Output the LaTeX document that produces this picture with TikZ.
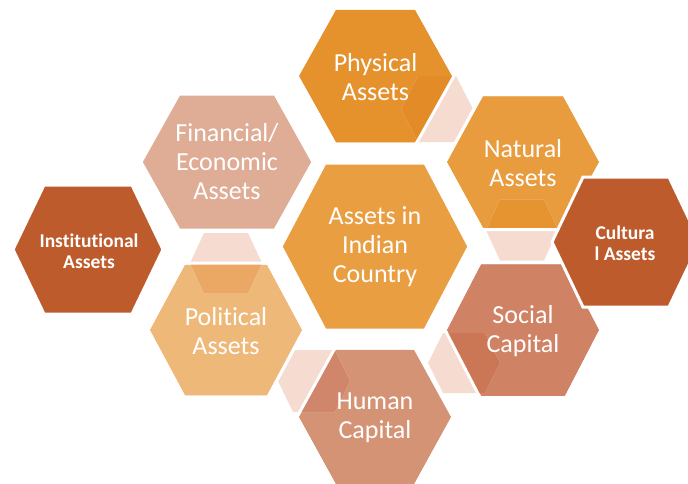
\documentclass[tikz,border=0pt]{standalone}
\usepackage{fontspec}
\setmainfont{Carlito}[Ligatures=NoCommon]
\definecolor{physC}{HTML}{E5912C}
\definecolor{physD}{HTML}{E28B27}
\definecolor{natC}{HTML}{E99C3E}
\definecolor{natD}{HTML}{E5942F}
\definecolor{centC}{HTML}{E99E42}
\definecolor{socC}{HTML}{D08265}
\definecolor{socD}{HTML}{CB7654}
\definecolor{humC}{HTML}{D49374}
\definecolor{humD}{HTML}{D0866A}
\definecolor{polC}{HTML}{EEB878}
\definecolor{polD}{HTML}{EBA864}
\definecolor{finC}{HTML}{DFAC95}
\definecolor{rustC}{HTML}{BD5B2D}
\definecolor{pinkC}{HTML}{F5DBD0}
\newcommand\hexp[5]{({#1-#3},{#2}) -- ({#1-#3+#5},{#2-#4}) -- ({#1+#3-#5},{#2-#4}) -- ({#1+#3},{#2}) -- ({#1+#3-#5},{#2+#4}) -- ({#1-#3+#5},{#2+#4}) -- cycle}
\tikzset{
  hexbox/.style={draw=white, line width=3pt, line join=miter},
  hexline/.style={draw=white, line width=3pt, line join=miter},
  lbl/.style={text=white, align=center, font=\fontsize{26}{29}\selectfont},
  blbl/.style={text=white, align=center, font=\fontsize{19.5}{21.5}\selectfont\bfseries},
}
\begin{document}
\begin{tikzpicture}[x=1pt, y=-1pt]
\useasboundingbox (0,0) rectangle (688,483);
\begin{scope}
\clip (0,0) rectangle (688,483);
% centre
\fill[centC, hexbox] \hexp{375}{246.5}{94}{83.5}{44};
% institutional
\fill[rustC, hexbox] \hexp{88}{249.5}{75}{64.5}{31};
% physical
\fill[physC, hexbox] \hexp{375.5}{76}{78.5}{68}{38};
\fill[pinkC] \hexp{437}{109}{36}{33}{17};
\begin{scope}\clip \hexp{375.5}{76}{78.5}{68}{38};
\fill[physD] \hexp{437}{109}{36}{33}{17};\end{scope}
\draw[hexline] \hexp{375.5}{76}{78.5}{68}{38};
% natural
\fill[natC, hexbox] \hexp{523}{162}{78}{67.5}{37};
\fill[pinkC] \hexp{522}{230}{36}{30.5}{14};
\begin{scope}\clip \hexp{523}{162}{78}{67.5}{37};
\fill[natD] \hexp{522}{230}{36}{30.5}{14};\end{scope}
\draw[hexline] \hexp{523}{162}{78}{67.5}{37};
% social
\fill[socC, hexbox] \hexp{523}{330}{78}{67.5}{35};
\fill[pinkC] \hexp{464}{363}{36}{30}{15};
\begin{scope}\clip \hexp{523}{330}{78}{67.5}{35};
\fill[socD] \hexp{464}{363}{36}{30}{15};\end{scope}
\draw[hexline] \hexp{523}{330}{78}{67.5}{35};
% human
\fill[humC, hexbox] \hexp{375}{417}{78}{69}{38};
\fill[pinkC] \hexp{314}{381}{36}{31}{15};
\begin{scope}\clip \hexp{375}{417}{78}{69}{38};
\fill[humD] \hexp{314}{381}{36}{31}{15};\end{scope}
\draw[hexline] \hexp{375}{417}{78}{69}{38};
% political
\fill[polC, hexbox] \hexp{226}{330}{78}{67}{36};
\fill[pinkC] \hexp{226}{263}{36}{30}{14};
\begin{scope}\clip \hexp{226}{330}{78}{67}{36};
\fill[polD] \hexp{226}{263}{36}{30}{14};\end{scope}
\draw[hexline] \hexp{226}{330}{78}{67}{36};
% financial
\fill[finC, hexbox] \hexp{227}{162}{86}{68}{38};
% cultural
\fill[rustC, hexbox] \hexp{626}{242}{74}{65}{31};
\end{scope}
% labels
\node[lbl] (phys) at (375.5,77) {Physical\\Assets};
\node[lbl] (nat) at (523,163) {Natural\\Assets};
\node[lbl] (fin) at (227,162) {Financial/\\Economic\\Assets};
\node[lbl] (cent) at (375,247) {Assets in\\Indian\\Country};
\node[lbl] (pol) at (226,331) {Political\\Assets};
\node[lbl] (soc) at (523,331) {Social\\Capital};
\node[lbl] (hum) at (375,418) {Human\\Capital};
\node[blbl] (inst) at (89,251) {Institutional\\Assets};
\node[blbl] (cult) at (625,243) {Cultura\\l Assets};
\end{tikzpicture}
\end{document}
